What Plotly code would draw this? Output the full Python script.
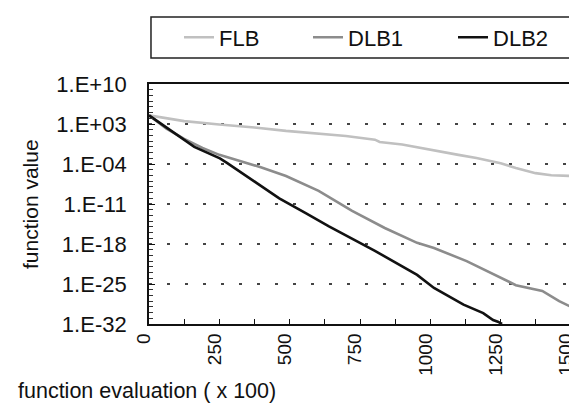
import plotly.graph_objects as go

# ---- data ----
flb_x = [0, 50, 125, 250, 375, 487, 625, 700, 803, 820, 900, 1013, 1100, 1164, 1250, 1304, 1374, 1430, 1500]
flb_y = [3.2e4, 1.3e4, 3.2e3, 8e2, 2.5e2, 6.3e1, 1.6e1, 7.9, 1.8, 7e-1, 2.5e-1, 2.1e-2, 4e-3, 1.1e-3,
         1.3e-4, 2e-5, 2.5e-6, 1.1e-6, 8e-7]

dlb1_x = [0, 62, 125, 190, 250, 322, 400, 487, 557, 603, 722, 838, 953, 1013, 1129, 1248, 1304, 1398, 1458, 1500]
dlb1_y = [3.2e4, 1.6e2, 2.5, 6.3e-2, 4e-3, 3.2e-4, 2.5e-5, 8e-7, 2.5e-8, 2e-9, 6.3e-13, 6.3e-16, 1.6e-18,
          2e-19, 1e-21, 1.3e-24, 6.3e-26, 6.3e-27, 1e-28, 1e-29]

dlb2_x = [0, 67, 137, 161, 252, 277, 382, 463, 557, 638, 803, 953, 1013, 1118, 1188, 1223, 1240, 1255]
dlb2_y = [3.2e4, 1.6e2, 5e-1, 1e-1, 1e-3, 1.6e-4, 5e-8, 1e-10, 2.5e-13, 1.3e-15, 6.3e-20, 4e-24, 2e-26,
          2.5e-29, 8e-31, 5e-32, 2.5e-32, 1e-32]

series_names = ["FLB", "DLB1", "DLB2"]
series_colors = ["#c0c0c0", "#8c8c8c", "#111111"]

y_tick_vals = [1e10, 1e3, 1e-4, 1e-11, 1e-18, 1e-25, 1e-32]
y_tick_text = ["1.E+10", "1.E+03", "1.E-04", "1.E-11", "1.E-18", "1.E-25", "1.E-32"]
y_minor_vals = [10.0 ** k for k in range(-32, 11)]
x_tick_vals = [0, 250, 500, 750, 1000, 1250, 1500]

FONT = "Liberation Sans, Arial, sans-serif"

legend_ids = ["legend", "legend2", "legend3"]
legend_x = [0.0711, 0.3768, 0.7204]

fig = go.Figure()
for xs, ys, name, col, lid in zip([flb_x, dlb1_x, dlb2_x], [flb_y, dlb1_y, dlb2_y],
                                  series_names, series_colors, legend_ids):
    fig.add_trace(go.Scatter(x=xs, y=ys, mode="lines", name=name, legend=lid,
                             line=dict(color=col, width=2.6)))

legend_common = dict(orientation="h", xanchor="left", y=1.194, yanchor="middle",
                     borderwidth=0, bgcolor="rgba(0,0,0,0)", font=dict(size=22, family=FONT))

fig.update_layout(
    width=577, height=403,
    margin=dict(l=141, r=14, t=76, b=87, autoexpand=False),
    paper_bgcolor="white", plot_bgcolor="white",
    font=dict(family=FONT, size=22, color="#111"),
    showlegend=True,
    legend=dict(x=legend_x[0], **legend_common),
    legend2=dict(x=legend_x[1], **legend_common),
    legend3=dict(x=legend_x[2], **legend_common),
    xaxis=dict(range=[0, 1500], tickvals=x_tick_vals, tickangle=-90,
               tickfont=dict(size=19),
               ticks="inside", ticklen=5, tickcolor="#111",
               minor=dict(dtick=125, ticks="inside", ticklen=5, tickcolor="#111"),
               showgrid=False, zeroline=False, automargin=False,
               showline=True, linecolor="#111", linewidth=1.8, mirror=True,
               ticklabelstandoff=0, ticklabelshift=-5, ticklabeloverflow="allow"),
    yaxis=dict(type="log", range=[-32, 10], tickvals=y_tick_vals, ticktext=y_tick_text,
               tickfont=dict(size=22),
               ticks="inside", ticklen=6, tickcolor="#111",
               minor=dict(tickvals=y_minor_vals, ticks="inside", ticklen=4, tickcolor="#333", showgrid=False),
               showgrid=True, gridcolor="#444", gridwidth=2, griddash="3px,15px",
               zeroline=False, showline=True, linecolor="#111", linewidth=1.8, mirror=True,
               automargin=False, ticklabelstandoff=16),
    shapes=[dict(type="rect", xref="paper", yref="paper",
                 x0=0.0047, x1=1.0, y0=1.108, y1=1.279,
                 line=dict(color="#222", width=1.5), fillcolor="rgba(0,0,0,0)")],
    annotations=[
        dict(text="function value", xref="paper", yref="paper", x=-0.282, y=0.5,
             textangle=-90, showarrow=False, font=dict(size=21), xanchor="center", yanchor="middle"),
        dict(text="function evaluation ( x 100)", xref="paper", yref="paper", x=-0.3152, y=-0.279,
             showarrow=False, font=dict(size=21.5), xanchor="left", yanchor="middle"),
    ],
)

fig.write_html("out.html")
